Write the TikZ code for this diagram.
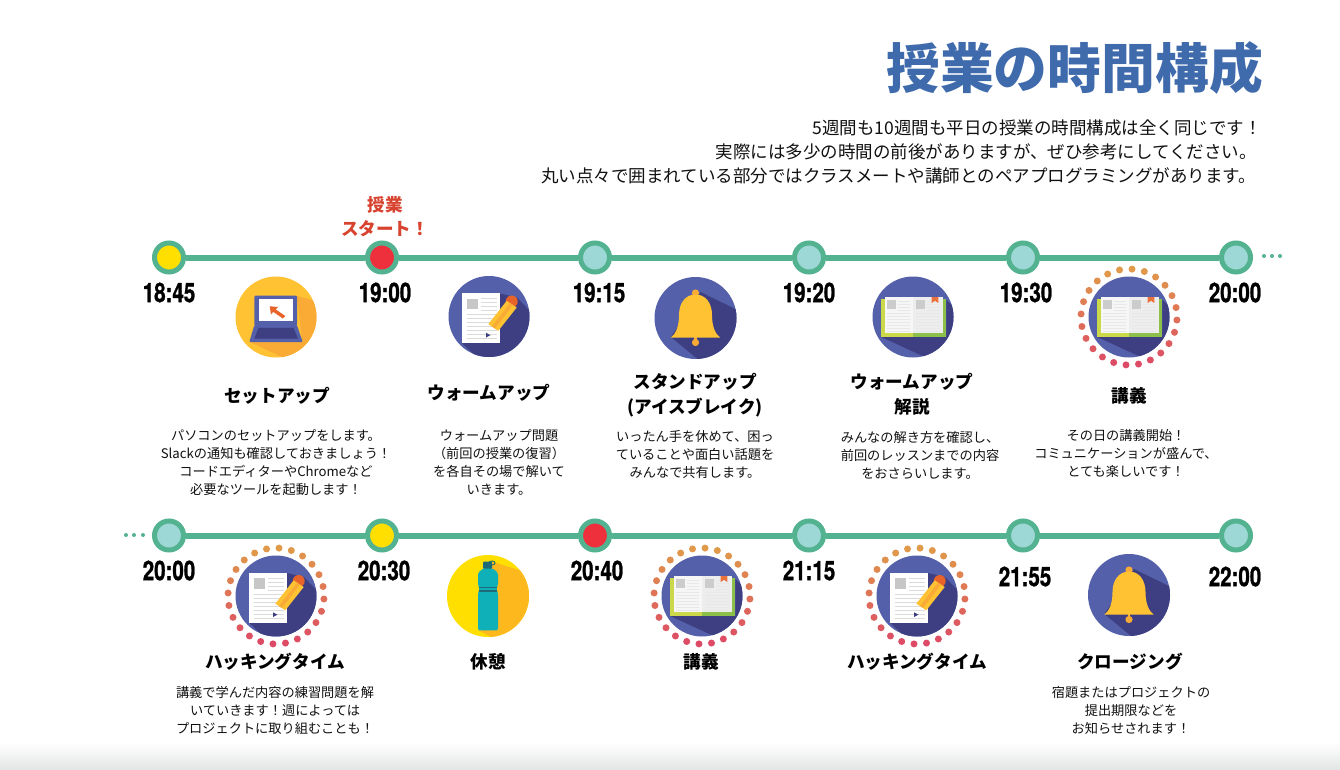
\documentclass[tikz,border=0pt]{standalone}
\usepackage{fontspec}
\setmainfont{Noto Sans CJK JP}
\newfontfamily\timefont[BoldFeatures={FakeBold=1.2}]{TeX Gyre Heros}
\definecolor{ring}{HTML}{53B290}
\definecolor{softc}{HTML}{9ED8D6}
\definecolor{yel}{HTML}{FFDF00}
\definecolor{redc}{HTML}{EE2F3C}
\definecolor{blueb}{HTML}{5460A9}
\definecolor{blued}{HTML}{3D3F82}
\definecolor{amber}{HTML}{FFC233}
\definecolor{ambd}{HTML}{F9AB35}
\definecolor{orng}{HTML}{E8632A}
\definecolor{titlec}{HTML}{3F6BAD}
\definecolor{startc}{HTML}{D8432F}
\definecolor{txt}{HTML}{111111}
\definecolor{ldot}{HTML}{E3E5E5}
\definecolor{covr}{HTML}{8CC04B}
\definecolor{covl}{HTML}{CAD84A}
\definecolor{pgl}{HTML}{F6F6F6}
\definecolor{pgr}{HTML}{EDEDED}
\definecolor{shy}{HTML}{FDB81E}
\definecolor{teal}{HTML}{0FB0B8}
\definecolor{tealk}{HTML}{1F6A78}
\tikzset{
  stopn/.style={circle,draw=ring,line width=5pt,minimum size=29pt,inner sep=0pt,fill=softc},
  tl/.style={line width=6pt,draw=ring},
  timelabel/.style={font=\timefont\bfseries\fontsize{27}{27}\selectfont,xscale=.76,inner sep=0pt,text=black},
  headn/.style={font=\bfseries\fontsize{17.6}{25}\selectfont,align=center,inner sep=0pt,text=black},
  bodyn/.style={font=\fontsize{13.2}{18}\selectfont,align=center,inner sep=0pt,text=txt},
  leadn/.style={font=\fontsize{17.5}{17.5}\selectfont,anchor=east,inner sep=0pt,text=txt},
  tdot/.style={circle,fill=ring,minimum size=4pt,inner sep=0pt},
}
\newcommand\iconDoc[2]{\begin{scope}[shift={(#1,#2)}]
  \fill[blueb] (0,0) circle (40.5);
  \begin{scope}\clip (0,0) circle (40.5);
    \fill[blued] (-27,26.7)--(11,-23)--(28,-19)--(65,20)--(65,70)--(14,65)--cycle;
  \end{scope}
  \fill[white] (-26.7,-23.3) rectangle (11,26.7);
  \fill[black!22] (-22.3,-18) rectangle (-11.3,-7.3);
  \foreach \y in {-18,-14,-10,-6}{\draw[black!14,line width=.8pt] (-8,\y)--(8,\y);}
  \foreach \y in {-2,2,6,10,14,18,22}{\draw[black!14,line width=.8pt] (-22.3,\y)--(8,\y);}
  \fill[blued] (-3,16.3)--(1.5,18.7)--(-3,21)--cycle;
  \fill[orng] (22.7,-15) circle (6);
  \fill[amber] (-.7,7.7)--(17.7,-15.7)--(27.7,-9)--(9.3,14.3)--cycle;
  \fill[ambd] (3,10)--(21,-13.4)--(24,-11.4)--(6,12)--cycle;
\end{scope}}
\newcommand\iconBook[2]{\begin{scope}[shift={(#1,#2)}]
  \fill[blueb] (0,0) circle (40.5);
  \begin{scope}\clip (0,0) circle (40.5);
    \fill[blued] (-31.7,20)--(33.3,20)--(33.3,-17)--(65,12)--(65,70)--(14,41)--cycle;
  \end{scope}
  \fill[covl] (-31.7,-17.7) rectangle (0,20);
  \fill[covr] (0,-17.7) rectangle (33.3,20);
  \fill[pgl] (-28.3,-20) rectangle (0,16);
  \fill[pgr] (0,-20) rectangle (30,16);
  \fill[black!20] (-25.7,-16.7) rectangle (-17.3,-8.3);
  \fill[black!20] (3.3,-16.7) rectangle (11.7,-8.3);
  \foreach \y in {-16,-13,-10,-7}{\draw[black!9,line width=.6pt] (-15,\y)--(-3,\y);\draw[black!9,line width=.6pt] (14,\y)--(27,\y);}
  \foreach \y in {-4,-1,2,5,8,11,14}{\draw[black!9,line width=.6pt] (-26,\y)--(-3,\y);\draw[black!9,line width=.6pt] (3,\y)--(27,\y);}
  \fill[orng!90!white] (18.7,-20)--(25.3,-20)--(25.3,-14)--(22,-16.2)--(18.7,-14)--cycle;
\end{scope}}
\newcommand\iconBell[2]{\begin{scope}[shift={(#1,#2)}]
  \fill[blueb] (0,0) circle (41);
  \begin{scope}\clip (0,0) circle (41);
    \fill[blued] (5,-26)--(50,-4)--(50,60)--(25,60)--(-24.6,19)--cycle;
  \end{scope}
  \fill[ambd] (0,24.5) circle (3.6);
  \fill[ambd] (-1.2,19) rectangle (1.2,24);
  \fill[ambd] (0,-25) circle (3.6);
  \fill[amber] (-24.6,19.5) .. controls (-20,16) and (-16.5,9) .. (-16.5,-3)
     .. controls (-16.5,-15) and (-10,-23.5) .. (0,-23.5) .. controls (10,-23.5) and (16.5,-15) .. (16.5,-3)
     .. controls (16.5,9) and (20,16) .. (24.6,19.5) -- cycle;
\end{scope}}
\newcommand\iconLaptop[2]{\begin{scope}[shift={(#1,#2)}]
  \fill[amber] (0,0) circle (40.5);
  \begin{scope}\clip (0,0) circle (40.5);
    \fill[ambd] (-26,25)--(26,25)--(21,-21)--(70,-8)--(70,60)--(10,42)--cycle;
  \end{scope}
  \fill[blueb,rounded corners=1pt] (-21.7,-21.3) rectangle (21,9);
  \fill[white] (-17.3,-18) rectangle (17.3,4.3);
  \fill[orng] (-6.3,-10.7)--(2,-10)--(-.3,-7.6)--(9.3,-1)--(6.8,1.5)--(-2.8,-5.2)--(-5,-2.5)--cycle;
  \fill[blueb,rounded corners=1pt] (-21.7,8.3)--(21,8.3)--(26.7,25)--(-26.7,25)--cycle;
  \fill[blued] (-17.5,10.8)--(17.5,10.8)--(22,21.7)--(-21.7,21.7)--cycle;
\end{scope}}
\newcommand\iconBottle[2]{\begin{scope}[shift={(#1,#2)}]
  \fill[yel] (0,0) circle (41);
  \begin{scope}\clip (0,0) circle (41);
    \fill[shy] (5,-34)--(50,-20)--(50,60)--(20,50)--(-10,34)--cycle;
  \end{scope}
  \draw[tealk,line width=.9pt] (4,-33) ellipse (3 and 2);
  \fill[tealk,rounded corners=1pt] (-5,-34.5) rectangle (4,-27);
  \fill[teal,rounded corners=1.5pt] (-5,-27.5)--(5,-27.5)--(10,-23)--(10,-11)--(8.8,-9)--(8.8,-5)--(10,-3)--(10,34.3)--(-10,34.3)--(-10,-3)--(-8.8,-5)--(-8.8,-9)--(-10,-11)--(-10,-23)--cycle;
  \fill[tealk] (-9,-9.2) rectangle (9,-7.8);
  \fill[tealk] (-9,-5.7) rectangle (9,-4.3);
\end{scope}}
\newcommand\dotRing[2]{\begin{scope}[shift={(#1,#2)}]
  \foreach \k in {0,...,23}{
    \pgfmathsetmacro\ang{86.4+15*\k}
    \pgfmathsetmacro\mixv{min(100,max(0,50-50*sin(\ang)))}
    \fill[fill={rgb,255:red,\fpeval{round(224+(221-224)*\mixv/100)};green,\fpeval{round(154+(74-154)*\mixv/100)};blue,\fpeval{round(74+(102-74)*\mixv/100)}}] (\ang:48 and -48) circle (3.5);
  }
\end{scope}}
\begin{document}
\begin{tikzpicture}[x=1pt,y=-1pt]
\useasboundingbox (0,0) rectangle (1340,770);
\fill[white] (0,0) rectangle (1340,770);
\shade[top color=white,bottom color=ldot] (0,742) rectangle (1340,770);
% title
\node[font=\bfseries\fontsize{53.8}{54}\selectfont,text=titlec,anchor=east,inner sep=0pt] (title) at (1263,68) {授業の時間構成};
\node[leadn] (lead1) at (1262,128) {5週間も10週間も平日の授業の時間構成は全く同じです！};
\node[leadn] (lead2) at (1257,152) {実際には多少の時間の前後がありますが、ぜひ参考にしてください。};
\node[leadn] (lead3) at (1256,176) {丸い点々で囲まれている部分ではクラスメートや講師とのペアプログラミングがあります。};
\node[headn,text=startc] (start) at (385,217) {授業\\[-1pt]スタート！};
% row 1
\node[stopn,fill=yel] (a1) at (169,257.5) {};
\node[stopn,fill=redc] (a2) at (382,257.5) {};
\node[stopn] (a3) at (595,257.5) {};
\node[stopn] (a4) at (809,257.5) {};
\node[stopn] (a5) at (1023,257.5) {};
\node[stopn] (a6) at (1236,257.5) {};
\foreach \p/\q in {a1/a2,a2/a3,a3/a4,a4/a5,a5/a6}{\draw[tl] (\p)--(\q);}
\node[tdot] (ad1) at (1264,256) {};
\node[tdot] (ad2) at (1272,256) {};
\node[tdot] (ad3) at (1280,256) {};
\node[timelabel] (ta1) at (169,292.5) {18:45};
\node[timelabel] (ta2) at (385,292.5) {19:00};
\node[timelabel] (ta3) at (599,292.5) {19:15};
\node[timelabel] (ta4) at (809,292.5) {19:20};
\node[timelabel] (ta5) at (1026,292.5) {19:30};
\node[timelabel] (ta6) at (1235,292.5) {20:00};
\iconLaptop{276}{317}
\iconDoc{489}{316.5}
\iconBell{695.5}{318}
\iconBook{913}{317}
\dotRing{1129}{317}
\iconBook{1129}{317}
\node[headn] (ha1) at (277,395.5) {セットアップ};
\node[headn] (ha2) at (489,392.5) {ウォームアップ};
\node[headn] (ha3) at (695,395.5) {スタンドアップ\\(アイスブレイク)};
\node[headn] (ha4) at (912,394.5) {ウォームアップ\\解説};
\node[headn] (ha5) at (1129,395.5) {講義};
\node[bodyn] (ba1) at (276,462.5) {パソコンのセットアップをします。\\Slackの通知も確認しておきましょう！\\コードエディターやChromeなど\\必要なツールを起動します！};
\node[bodyn] (ba2) at (499,462.5) {ウォームアップ問題\\（前回の授業の復習）\\を各自その場で解いて\\いきます。};
\node[bodyn] (ba3) at (695,454.5) {いったん手を休めて、困っ\\ていることや面白い話題を\\みんなで共有します。};
\node[bodyn] (ba4) at (920,455.5) {みんなの解き方を確認し、\\前回のレッスンまでの内容\\をおさらいします。};
\node[bodyn] (ba5) at (1126,453.5) {その日の講義開始！\\コミュニケーションが盛んで、\\とても楽しいです！};
% row 2
\node[stopn] (b1) at (169,535.5) {};
\node[stopn,fill=yel] (b2) at (382,535.5) {};
\node[stopn,fill=redc] (b3) at (595,535.5) {};
\node[stopn] (b4) at (809,535.5) {};
\node[stopn] (b5) at (1023,535.5) {};
\node[stopn] (b6) at (1236,535.5) {};
\foreach \p/\q in {b1/b2,b2/b3,b3/b4,b4/b5,b5/b6}{\draw[tl] (\p)--(\q);}
\node[tdot] (bd1) at (126,535) {};
\node[tdot] (bd2) at (134,535) {};
\node[tdot] (bd3) at (143,535) {};
\node[timelabel] (tb1) at (169,570.5) {20:00};
\node[timelabel] (tb2) at (384,570.5) {20:30};
\node[timelabel] (tb3) at (597,570.5) {20:40};
\node[timelabel] (tb4) at (809,570.5) {21:15};
\node[timelabel] (tb5) at (1025,576.5) {21:55};
\node[timelabel] (tb6) at (1235,576.5) {22:00};
\dotRing{276}{596}
\iconDoc{276}{596}
\iconBottle{488}{596}
\dotRing{702}{596}
\iconBook{702}{596}
\dotRing{917}{596}
\iconDoc{917}{596}
\iconBell{1129}{595}
\node[headn] (hb1) at (275,661.5) {ハッキングタイム};
\node[headn] (hb2) at (488,661.5) {休憩};
\node[headn] (hb3) at (701,661.5) {講義};
\node[headn] (hb4) at (917,661.5) {ハッキングタイム};
\node[headn] (hb5) at (1130,661.5) {クロージング};
\node[bodyn] (bb1) at (275,710.5) {講義で学んだ内容の練習問題を解\\いていきます！週によっては\\プロジェクトに取り組むことも！};
\node[bodyn] (bb5) at (1131,710.5) {宿題またはプロジェクトの\\提出期限などを\\お知らせされます！};
\end{tikzpicture}
\end{document}
